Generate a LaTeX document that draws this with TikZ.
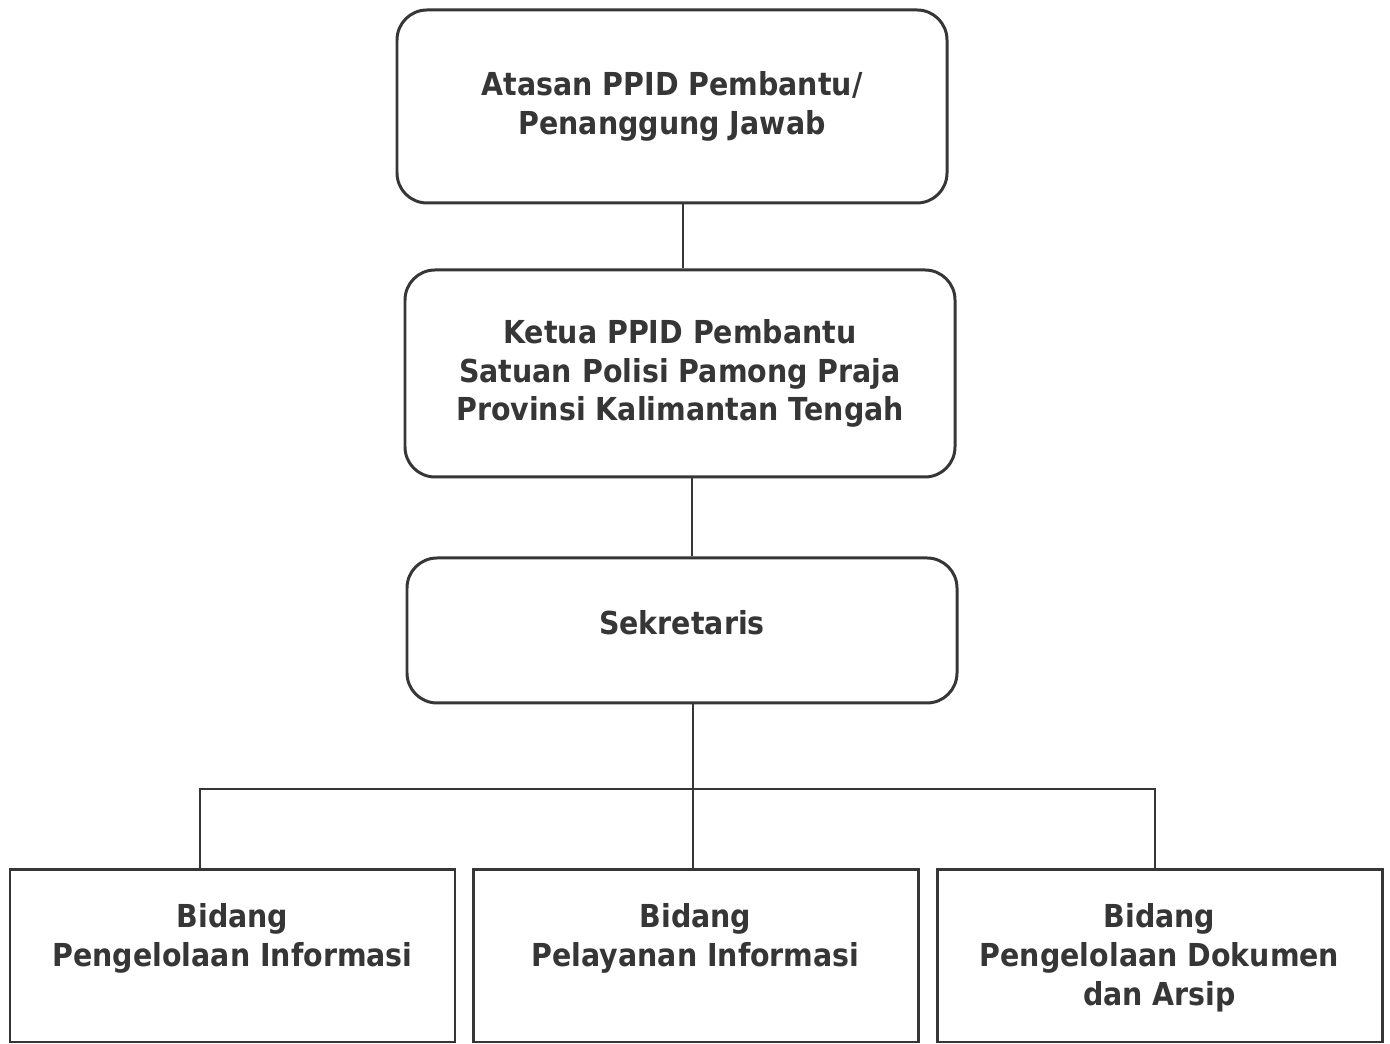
\documentclass[tikz,border=0pt]{standalone}
\usepackage{fontspec}
\setmainfont[FakeStretch=0.9]{DejaVu Sans}
\usetikzlibrary{positioning}
\definecolor{inkgray}{HTML}{363636}
\tikzset{
  boxfont/.style={font=\fontsize{18}{22}\selectfont\bfseries, text=inkgray, align=center},
  orgbox/.style={draw=inkgray, line width=1.7pt, rounded corners=0.6cm, minimum width=11cm, boxfont},
  unitbox/.style={draw=inkgray, line width=1.7pt, minimum width=8.9cm, minimum height=3.44cm},
  link/.style={draw=inkgray, line width=1.6pt}
}
\begin{document}
\begin{tikzpicture}
\useasboundingbox (0,0) rectangle (27.8,20.88);

% atas
\node[orgbox, minimum height=3.86cm] (atasan) at (13.44,18.75)
    {Atasan PPID Pembantu/\\Penanggung Jawab};
\node[orgbox, minimum height=4.14cm] (ketua) at (13.6,13.41)
    {Ketua PPID Pembantu\\Satuan Polisi Pamong Praja\\Provinsi Kalimantan Tengah};
\node[orgbox, minimum height=2.9cm, text depth=0.32cm] (sekretaris) at (13.64,8.27) {Sekretaris};

% bidang
\node[unitbox, label={[boxfont, anchor=north, yshift=-0.58cm]north:Bidang\\Pengelolaan Informasi}]
    (pengelolaan) at (4.65,1.76) {};
\node[unitbox, label={[boxfont, anchor=north, yshift=-0.58cm]north:Bidang\\Pelayanan Informasi}]
    (pelayanan) at (13.91,1.76) {};
\node[unitbox, label={[boxfont, anchor=north, yshift=-0.58cm]north:Bidang\\Pengelolaan Dokumen\\dan Arsip}]
    (arsip) at (23.19,1.76) {};

\coordinate (bus) at (13.86,5.10);

\draw[link] ([xshift=0.22cm]atasan.south) -- ([xshift=0.22cm]atasan.south |- ketua.north);
\draw[link] ([xshift=0.24cm]ketua.south) -- ([xshift=0.24cm]ketua.south |- sekretaris.north);
\draw[link] ([xshift=0.22cm]sekretaris.south) -- ([xshift=0.22cm]sekretaris.south |- pelayanan.north);
\draw[link] ([xshift=-0.65cm]pengelolaan.north) |- (bus) -| ([xshift=-0.09cm]arsip.north);
\end{tikzpicture}
\end{document}
